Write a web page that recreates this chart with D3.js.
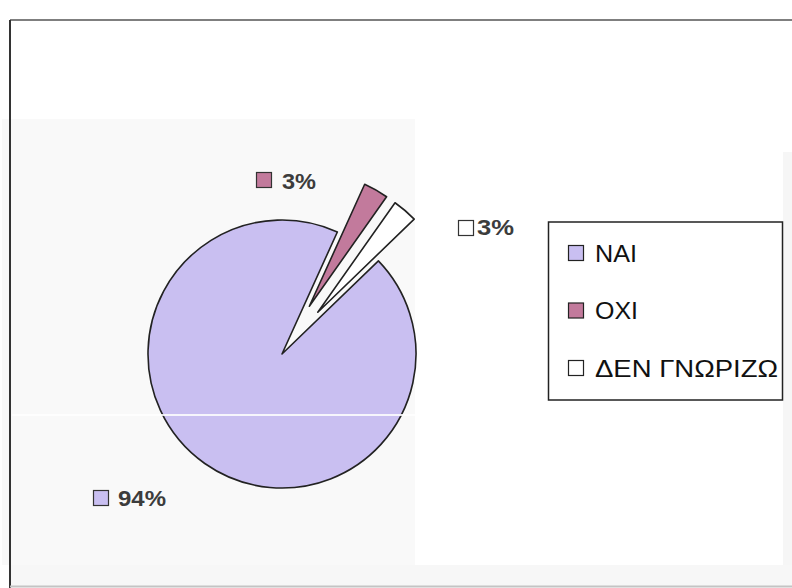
<!DOCTYPE html>
<html>
<head>
<meta charset="utf-8">
<script src="https://cdn.jsdelivr.net/npm/d3@7"></script>
<style>
  html, body { margin: 0; padding: 0; background: #ffffff; }
  svg { display: block; }
</style>
</head>
<body>
<svg id="chart" width="792" height="588"></svg>
<script>
// Survey answers and their shares (%)
const categories = ["NAI", "OXI", "ΔΕΝ ΓΝΩΡΙΖΩ"];
const values = [94, 3, 3];
const labels = ["94%", "3%", "3%"];
const colors = ["#c9bff1", "#c27a9c", "#ffffff"];
const explode = [0, 55, 55];

const W = 792, H = 588;
const svg = d3.select("#chart");
const font = "'Liberation Sans', Arial, sans-serif";

// page / plot area backgrounds
svg.append("rect").attr("x", 0).attr("y", 0).attr("width", W).attr("height", H).attr("fill", "#ffffff");
svg.append("rect").attr("x", 2).attr("y", 119).attr("width", 413).attr("height", 446).attr("fill", "#f9f9f9");
svg.append("rect").attr("x", 783).attr("y", 152).attr("width", 9).attr("height", 413).attr("fill", "#f6f6f6");
svg.append("rect").attr("x", 10).attr("y", 565).attr("width", W - 10).attr("height", 21).attr("fill", "#f7f7f7");

// chart frame
svg.append("line").attr("x1", 10).attr("y1", 20).attr("x2", W).attr("y2", 20)
  .attr("stroke", "#555").attr("stroke-width", 1.5);
svg.append("line").attr("x1", 10).attr("y1", 20).attr("x2", 10).attr("y2", H)
  .attr("stroke", "#333").attr("stroke-width", 2);
svg.append("line").attr("x1", 10).attr("y1", 586.5).attr("x2", W).attr("y2", 586.5)
  .attr("stroke", "#c4c4c4").attr("stroke-width", 2);

// pie
const cx = 282, cy = 354, R = 134;
const start = 46 * Math.PI / 180;
const pie = d3.pie().sort(null).value(d => d.v)
  .startAngle(start).endAngle(start + 2 * Math.PI);
const data = categories.map((c, i) => ({ c, v: values[i], i }));
const arcs = pie(data);
const arc = d3.arc().innerRadius(0).outerRadius(R);

const g = svg.append("g").attr("transform", `translate(${cx},${cy})`);
g.selectAll("path.slice").data(arcs).enter().append("path")
  .attr("class", "slice")
  .attr("d", arc)
  .attr("transform", d => {
    const a = (d.startAngle + d.endAngle) / 2;
    const e = explode[d.data.i];
    return `translate(${e * Math.sin(a)},${-e * Math.cos(a)})`;
  })
  .attr("fill", d => colors[d.data.i])
  .attr("stroke", "#222")
  .attr("stroke-width", 1.6)
  .attr("stroke-linejoin", "round");

// faint horizontal streak across the pie
svg.append("line").attr("x1", 12).attr("y1", 415).attr("x2", 415).attr("y2", 415)
  .attr("stroke", "#ffffff").attr("stroke-width", 2).attr("opacity", 0.85);

// data labels with their legend keys
const labelPos = [
  { kx: 93, ky: 490, tx: 118, ty: 506, w: 48 },
  { kx: 256, ky: 172, tx: 282, ty: 189, w: 34 },
  { kx: 458, ky: 220, tx: 477, ty: 235, w: 37 }
];
arcs.forEach(d => {
  const i = d.data.i, p = labelPos[i];
  svg.append("rect").attr("x", p.kx + 0.5).attr("y", p.ky + 0.5)
    .attr("width", 15).attr("height", 15)
    .attr("fill", colors[i]).attr("stroke", "#333").attr("stroke-width", 1.2);
  svg.append("text").attr("x", p.tx).attr("y", p.ty)
    .attr("font-family", font).attr("font-size", 22).attr("font-weight", "bold")
    .attr("fill", "#3c3c3c")
    .attr("textLength", p.w).attr("lengthAdjust", "spacingAndGlyphs")
    .text(labels[i]);
});

// legend
const lg = svg.append("g");
lg.append("rect").attr("x", 548.5).attr("y", 222).attr("width", 234).attr("height", 178)
  .attr("fill", "#ffffff").attr("stroke", "#222").attr("stroke-width", 1.5);
const legY = d3.scalePoint().domain(categories).range([253, 368]);
const legW = [42, 43, 183];
categories.forEach((c, i) => {
  const y = legY(c);
  lg.append("rect").attr("x", 568.5).attr("y", y - 7.5)
    .attr("width", 15).attr("height", 15)
    .attr("fill", colors[i]).attr("stroke", "#222").attr("stroke-width", 1.2);
  lg.append("text").attr("x", 595).attr("y", y + 8.5)
    .attr("font-family", font).attr("font-size", 23)
    .attr("fill", "#111")
    .attr("textLength", legW[i]).attr("lengthAdjust", "spacingAndGlyphs")
    .text(c);
});
</script>
</body>
</html>
